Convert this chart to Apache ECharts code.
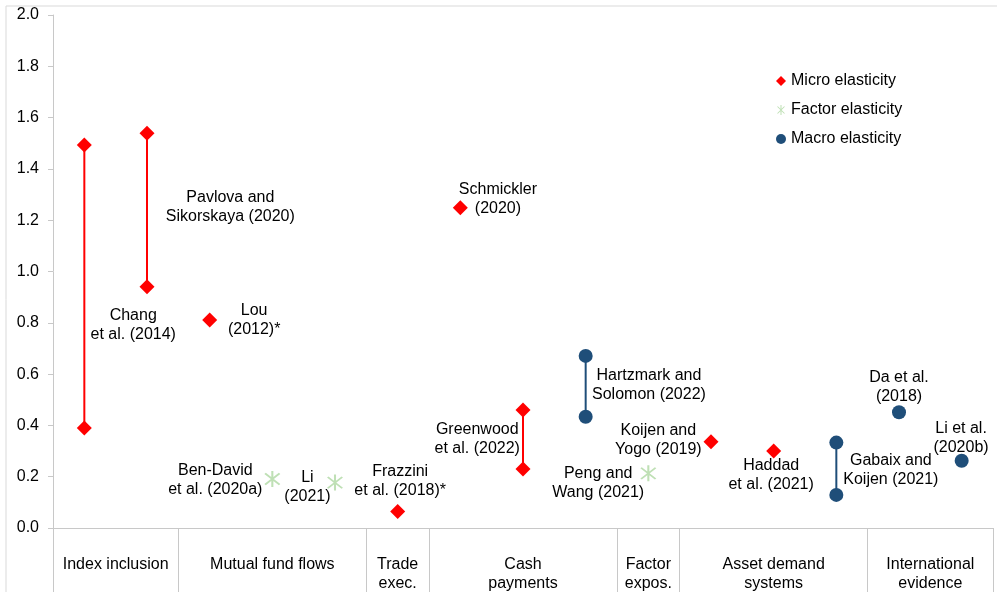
<!DOCTYPE html>
<html>
<head>
<meta charset="utf-8">
<script src="https://cdn.jsdelivr.net/npm/echarts@6/dist/echarts.min.js"></script>
<style>
  html, body { margin: 0; padding: 0; background: #fff; }
  #chart { width: 997px; height: 592px; }
</style>
</head>
<body>
<div id="chart"></div>
<script>
  // slots 1..15 along the x axis, one per study
  const microRanges = [[1, 0.39, 1.493], [2, 0.941, 1.539], [8, 0.23, 0.46]];
  const microSingles = [[3, 0.811], [6, 0.064], [7, 1.249], [11, 0.336], [12, 0.30]];
  const factorSingles = [[4, 0.191], [5, 0.177], [10, 0.213]];
  const macroRanges = [[9, 0.434, 0.671], [13, 0.129, 0.333]];
  const macroSingles = [[14, 0.451], [15, 0.262]];

  const groupNames = ['Index inclusion', 'Mutual fund flows', 'Trade\nexec.', 'Cash\npayments',
    'Factor\nexpos.', 'Asset demand\nsystems', 'International\nevidence'];
  const groupSlots = [[1, 2], [3, 5], [6, 6], [7, 9], [10, 10], [11, 13], [14, 15]];

  // study captions: [x, y, text]
  const notes = [
    [1.78, 0.79, 'Chang\net al. (2014)'],
    [3.33, 1.25, 'Pavlova and\nSikorskaya (2020)'],
    [3.71, 0.81, 'Lou\n(2012)*'],
    [3.09, 0.185, 'Ben-David\net al. (2020a)'],
    [4.56, 0.158, 'Li\n(2021)'],
    [6.04, 0.181, 'Frazzini\net al. (2018)*'],
    [7.6, 1.283, 'Schmickler\n(2020)'],
    [7.27, 0.345, 'Greenwood\net al. (2022)'],
    [10.01, 0.556, 'Hartzmark and\nSolomon (2022)'],
    [10.16, 0.341, 'Koijen and\nYogo (2019)'],
    [9.2, 0.175, 'Peng and\nWang (2021)'],
    [11.96, 0.207, 'Haddad\net al. (2021)'],
    [13.87, 0.224, 'Gabaix and\nKoijen (2021)'],
    [14.0, 0.548, 'Da et al.\n(2018)'],
    [14.99, 0.351, 'Li et al.\n(2020b)']
  ];

  const RED = '#ff0000', GREEN = '#bfe0b5', BLUE = '#1f4e79', AXIS = '#c8c8c8';
  const FONT = 'Liberation Sans, Arial, sans-serif';
  const starPath = 'path://M9 0H11V20H9Z' +
    'M3.71 2.29L17.71 16.29L16.29 17.71L2.29 3.71Z' +
    'M17.71 3.71L3.71 17.71L2.29 16.29L16.29 2.29Z';

  const chart = echarts.init(document.getElementById('chart'));

  const endpoints = r => r.flatMap(d => [[d[0], d[1]], [d[0], d[2]]]);
  const rangeLines = (ranges, color) => ranges.map(d => ({
    type: 'line',
    data: [[d[0], d[1]], [d[0], d[2]]],
    showSymbol: false,
    silent: true,
    z: 1,
    lineStyle: {color: color, width: 2}
  }));

  const boundaries = groupSlots.map(g => g[1] + 0.5);
  const textLabel = {
    show: true,
    position: 'inside',
    formatter: '{b}',
    color: '#000',
    fontSize: 16,
    lineHeight: 19,
    fontFamily: FONT
  };

  let series = [];
  series = series.concat(rangeLines(microRanges, RED), rangeLines(macroRanges, BLUE));
  series.push({
    name: 'Micro elasticity',
    type: 'scatter',
    symbol: 'diamond',
    symbolSize: 15,
    z: 3,
    itemStyle: {color: RED, opacity: 1},
    data: endpoints(microRanges).concat(microSingles)
  }, {
    name: 'Factor elasticity',
    type: 'scatter',
    symbol: starPath,
    symbolSize: 16,
    z: 3,
    itemStyle: {color: GREEN, opacity: 1},
    data: factorSingles
  }, {
    name: 'Macro elasticity',
    type: 'scatter',
    symbol: 'circle',
    symbolSize: 14,
    z: 3,
    itemStyle: {color: BLUE, opacity: 1},
    data: endpoints(macroRanges).concat(macroSingles)
  }, {
    type: 'scatter',
    silent: true,
    symbolSize: 0,
    z: 4,
    itemStyle: {opacity: 1},
    data: notes.map(n => ({value: [n[0], n[1]], name: n[2]})),
    label: textLabel
  }, {
    type: 'scatter',
    xAxisIndex: 1,
    yAxisIndex: 1,
    silent: true,
    symbolSize: 0,
    itemStyle: {opacity: 1},
    data: groupNames.map((g, i) => ({value: [(groupSlots[i][0] + groupSlots[i][1]) / 2, 0.58], name: g})),
    label: Object.assign({}, textLabel, {verticalAlign: 'top'}),
    markLine: {
      silent: true,
      symbol: ['none', 'none'],
      label: {show: false},
      lineStyle: {color: AXIS, width: 1, type: 'solid', opacity: 1},
      data: boundaries.map(b => ({xAxis: b}))
    }
  });

  const option = {
    animation: false,
    backgroundColor: '#fff',
    textStyle: {fontFamily: FONT},
    graphic: [{
      type: 'rect',
      shape: {x: 6, y: 6, width: 1000, height: 600},
      style: {fill: 'none', stroke: '#d9d9d9', lineWidth: 1},
      silent: true
    }],
    legend: {
      orient: 'vertical',
      left: 771,
      top: 68,
      itemWidth: 10,
      itemHeight: 10,
      itemGap: 13,
      textStyle: {fontSize: 16, color: '#000'},
      data: ['Micro elasticity', 'Factor elasticity', 'Macro elasticity']
    },
    grid: [
      {left: 53, right: 4, top: 15, height: 513},
      {left: 53, right: 4, top: 528, height: 64}
    ],
    xAxis: [{
      type: 'value',
      gridIndex: 0,
      min: 0.5,
      max: 15.5,
      axisLine: {show: true, lineStyle: {color: AXIS}},
      axisTick: {show: false},
      axisLabel: {show: false},
      splitLine: {show: false}
    }, {
      type: 'value',
      gridIndex: 1,
      min: 0.5,
      max: 15.5,
      show: false
    }],
    yAxis: [{
      type: 'value',
      gridIndex: 0,
      min: 0,
      max: 2,
      interval: 0.2,
      axisLine: {show: true, lineStyle: {color: AXIS}},
      axisTick: {show: true, length: 5, lineStyle: {color: AXIS}},
      axisLabel: {fontSize: 16, color: '#000', margin: 14, formatter: v => v.toFixed(1)},
      splitLine: {show: false}
    }, {
      type: 'value',
      gridIndex: 1,
      min: 0,
      max: 1,
      axisLine: {show: true, lineStyle: {color: AXIS}},
      axisTick: {show: false},
      axisLabel: {show: false},
      splitLine: {show: false}
    }],
    series: series
  };
  chart.setOption(option);
</script>
</body>
</html>
